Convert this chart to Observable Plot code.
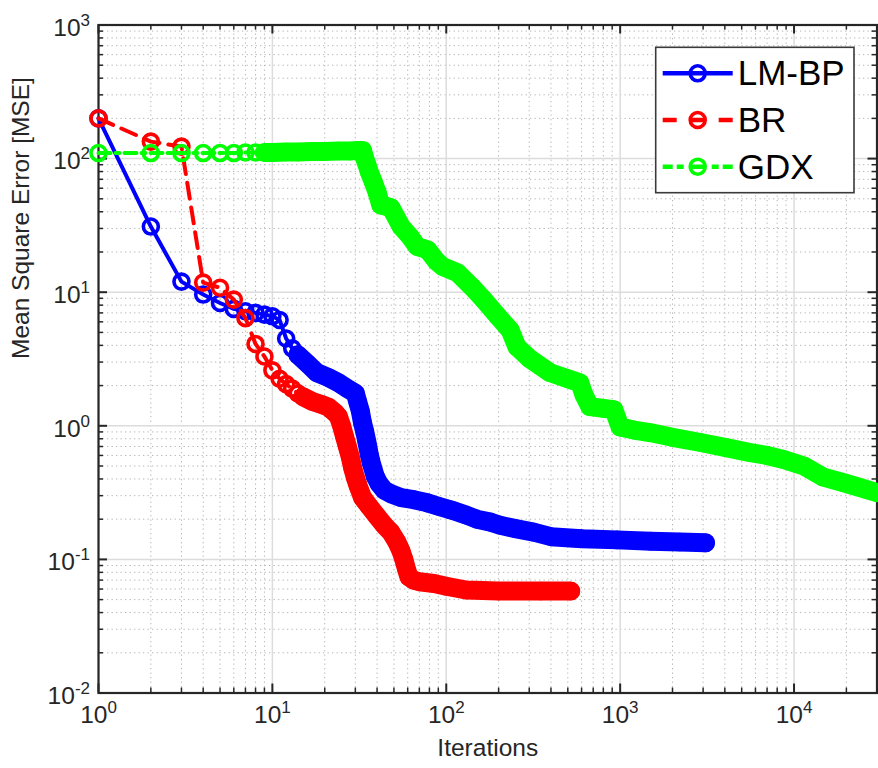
<!DOCTYPE html>
<html>
<head>
<meta charset="utf-8">
<script src="https://cdn.jsdelivr.net/npm/d3@7"></script>
<script src="https://cdn.jsdelivr.net/npm/@observablehq/plot@0.6"></script>
<style>
  html, body { margin: 0; padding: 0; background: #fff; }
  #wrap { position: relative; width: 878px; height: 768px; overflow: hidden;
          font-family: "Liberation Sans", Arial, Helvetica, sans-serif; }
  #legend { position: absolute; left: 0; top: 0; }
</style>
</head>
<body>
<div id="wrap"></div>
<script>
// ---------- data ----------
const seriesNames  = ["LM-BP", "BR", "GDX"];
const seriesColors = ["#0000ff", "#ff0000", "#00ff00"];

const lmIter = [1,2,3,4,5,6,7,8,9,10,11,12,13,14,16,18,21,24,27,29,30,31,32,33,34,35,36,37,39,41,44,48,55,65,78,90,106,130,150,180,204,250,318,400,600,960,1500,2200,3100];
const lmMSE  = [200,31,12,9.6,8.3,7.5,7.2,7.0,6.8,6.6,6.2,4.5,3.8,3.4,2.9,2.5,2.3,2.1,1.9,1.8,1.75,1.5,1.3,1.05,0.9,0.75,0.62,0.53,0.42,0.37,0.33,0.31,0.29,0.28,0.265,0.25,0.235,0.215,0.2,0.19,0.18,0.17,0.16,0.148,0.143,0.14,0.137,0.135,0.133];

const brIter = [1,2,3,4,5,6,7,8,9,10,11,12,13,14,15,17,19,21,23,24,25,26,27,28,29,30,31,33,36,40,44,48,52,55,57,59,61,65,70,85,100,130,200,350,520];
const brMSE  = [200,134,123,11.8,10.8,8.8,6.4,4.1,3.3,2.6,2.25,2.05,1.9,1.75,1.65,1.52,1.45,1.38,1.25,1.17,1.0,0.83,0.7,0.59,0.48,0.41,0.36,0.29,0.25,0.21,0.18,0.16,0.135,0.115,0.1,0.085,0.074,0.07,0.068,0.066,0.063,0.059,0.058,0.058,0.058];

const gdxIter = [1,2,3,4,5,6,7,8,9,10,12,14,17,20,24,28,31,33,34,35,36,38,40,42,45,48,55,62,68,78,88,96,116,140,164,200,233,255,300,395,500,586,620,670,800,920,1000,1200,1480,2000,2900,4000,5600,7000,8700,11400,14600,20000,30000];
const gdxMSE  = [110,110,110,110,110,110,111,111,111,111,112,112,113,113,114,114,115,115,100,90,80,67,56,45,44,43,31,26,22,20.8,17,15.5,14,11,8.8,6.5,5.2,3.9,3.2,2.5,2.25,2.1,1.7,1.39,1.35,1.32,0.98,0.93,0.89,0.82,0.75,0.69,0.63,0.6,0.56,0.5,0.415,0.37,0.316];

const xTickValues = [1, 10, 100, 1000, 10000];
const yTickValues = [0.01, 0.1, 1, 10, 100, 1000];
const xLabel = "Iterations";
const yLabel = "Mean Square Error [MSE]";

// ---------- build table ----------
const iters = [lmIter, brIter, gdxIter];
const mses  = [lmMSE, brMSE, gdxMSE];
const bandStart = [14, 15, 9];   // where consecutive markers merge into a solid band
const dashes = [null, "16,9", "12,5,4,5"];

const W = 878, H = 768;
const mL = 98, mR = 1.5, mT = 24.5, mB = 75.5;
const ph = H - mT - mB;
const xDomain = [1, 30000];
const yDomain = [0.01, 1000];

const xMinor = d3.scaleLog().domain(xDomain).ticks().filter(v => !xTickValues.includes(v));
const yMinor = d3.scaleLog().domain(yDomain).ticks().filter(v => !yTickValues.includes(v));

const ink = "#262626";
const fontFam = "'Liberation Sans', Arial, Helvetica, sans-serif";
const fs = 24.5;

const seriesMarks = [];
seriesNames.forEach((name, i) => {
  const rows = iters[i].map((it, j) => ({it, v: mses[i][j], name}));
  seriesMarks.push(
    Plot.line(rows, {x: "it", y: "v", stroke: seriesColors[i], strokeWidth: 4,
      strokeDasharray: dashes[i] || undefined, strokeLinejoin: "round"}),
    Plot.line(rows.filter(d => d.it >= bandStart[i]), {x: "it", y: "v", stroke: seriesColors[i],
      strokeWidth: 19, strokeLinecap: "round", strokeLinejoin: "round"}),
    Plot.dot(rows, {x: "it", y: "v", r: 7.5, stroke: seriesColors[i], strokeWidth: 3.6, fill: "none"})
  );
});

const chart = Plot.plot({
  width: W, height: H,
  marginLeft: mL, marginRight: mR, marginTop: mT, marginBottom: mB,
  style: {fontFamily: fontFam, background: "#fff", overflow: "visible"},
  x: {type: "log", domain: xDomain, axis: null},
  y: {type: "log", domain: yDomain, axis: null},
  marks: [
    // minor grid
    Plot.ruleX(xMinor, {stroke: "#b5b5b5", strokeWidth: 1, strokeDasharray: "1.3,3.2"}),
    Plot.ruleY(yMinor, {stroke: "#b5b5b5", strokeWidth: 1, strokeDasharray: "1.3,3.2"}),
    // major grid
    Plot.ruleX(xTickValues, {stroke: "#dcdcdc", strokeWidth: 1.5}),
    Plot.ruleY(yTickValues, {stroke: "#dcdcdc", strokeWidth: 1.5}),
    // frame
    Plot.frame({stroke: ink, strokeWidth: 2.2}),
    // inward ticks: bottom / top
    Plot.ruleX(xTickValues, {insetTop: ph - 9, stroke: ink, strokeWidth: 2}),
    Plot.ruleX(xTickValues, {insetBottom: ph - 9, stroke: ink, strokeWidth: 2}),
    Plot.ruleX(xMinor, {insetTop: ph - 5, stroke: ink, strokeWidth: 1.5}),
    Plot.ruleX(xMinor, {insetBottom: ph - 5, stroke: ink, strokeWidth: 1.5}),
    // inward ticks: left / right
    Plot.ruleY(yTickValues, {insetRight: (W - mL - mR) - 9, stroke: ink, strokeWidth: 2}),
    Plot.ruleY(yTickValues, {insetLeft: (W - mL - mR) - 9, stroke: ink, strokeWidth: 2}),
    Plot.ruleY(yMinor, {insetRight: (W - mL - mR) - 5, stroke: ink, strokeWidth: 1.5}),
    Plot.ruleY(yMinor, {insetLeft: (W - mL - mR) - 5, stroke: ink, strokeWidth: 1.5}),
    // data
    ...seriesMarks,
    // tick labels
    Plot.text(xTickValues, {x: d => d, frameAnchor: "bottom", text: d => "10^" + Math.round(Math.log10(d)),
      dy: 30, fontSize: fs, fill: ink, textAnchor: "middle"}),
    Plot.text(yTickValues, {y: d => d, frameAnchor: "left", text: d => "10^" + Math.round(Math.log10(d)),
      dx: -8.5, dy: 3, fontSize: fs, fill: ink, textAnchor: "end"}),
    // axis titles
    Plot.text([xLabel], {frameAnchor: "bottom", text: d => d, dy: 62.5, fontSize: fs, fill: ink}),
    Plot.text([yLabel], {frameAnchor: "left", text: d => d, rotate: -90, dx: -77, fontSize: fs, fill: ink})
  ]
});

// superscripts for "10^k"
d3.select(chart).selectAll("text").each(function() {
  const t = this.textContent;
  const m = /^10\^(-?\d+)$/.exec(t);
  if (!m) return;
  const sel = d3.select(this);
  sel.text(null);
  sel.append("tspan").text("10");
  sel.append("tspan").attr("dy", "-10").attr("font-size", 17).text(m[1]);
});

const wrap = document.getElementById("wrap");
wrap.appendChild(chart);

// ---------- legend ----------
const lg = d3.select(wrap).append("svg").attr("id", "legend")
  .attr("width", W).attr("height", H)
  .style("position", "absolute").style("left", "0px").style("top", "0px");
const box = {x: 655.7, y: 47.3, w: 198.3, h: 145.4};
lg.append("rect").attr("x", box.x).attr("y", box.y).attr("width", box.w).attr("height", box.h)
  .attr("fill", "#fff").attr("stroke", "#3a3a3a").attr("stroke-width", 1.6);
const legendDash = [null, "14,14", "10,4,7,7,14,7,7,4,10"];
seriesNames.forEach((name, i) => {
  const cy = box.y + 26 + i * 46.7;
  const x0 = box.x + 7, x1 = box.x + 77, cx = (x0 + x1) / 2;
  lg.append("line").attr("x1", x0).attr("x2", x1).attr("y1", cy).attr("y2", cy)
    .attr("stroke", seriesColors[i]).attr("stroke-width", 4.5)
    .attr("stroke-dasharray", legendDash[i]);
  lg.append("circle").attr("cx", cx).attr("cy", cy).attr("r", 7.5)
    .attr("fill", "none").attr("stroke", seriesColors[i]).attr("stroke-width", 3.6);
  lg.append("text").attr("x", box.x + 82).attr("y", cy + 12)
    .attr("font-family", fontFam).attr("font-size", 35).attr("fill", "#000")
    .text(name);
});
</script>
</body>
</html>
